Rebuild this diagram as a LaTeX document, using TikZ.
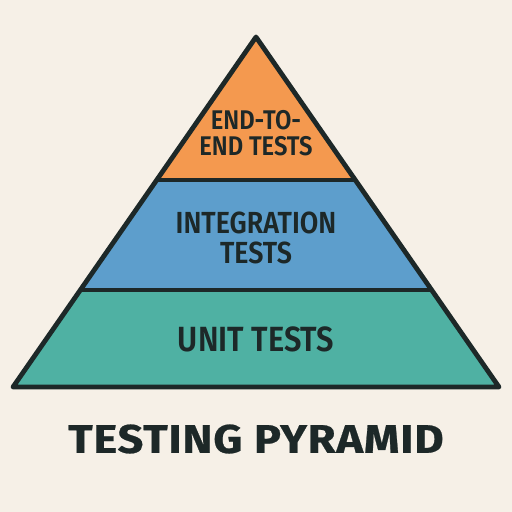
\documentclass[tikz,border=0pt]{standalone}
\usepackage{fontspec}
\setmainfont{Fira Sans}[UprightFont={* SemiBold},BoldFont={* Bold}]
\newfontfamily\condfont{Fira Sans}[UprightFont={* SemiBold},FakeStretch=0.88]
\newfontfamily\titlefont{Fira Sans}[UprightFont={* Bold},FakeStretch=1.13,FakeBold=0.6,LetterSpace=2]
\definecolor{bg}{HTML}{F6F0E7}
\definecolor{ink}{HTML}{1D2828}
\definecolor{orangeL}{HTML}{F4994F}
\definecolor{blueL}{HTML}{5D9ECC}
\definecolor{tealL}{HTML}{4FB1A3}
\begin{document}
\begin{tikzpicture}[x=1pt,y=-1pt,
  layer/.style={draw=ink,line width=4.8pt,line join=round},
  lbl/.style={text=ink,align=center,inner sep=0pt},
  ttl/.style={text=ink,font=\titlefont\fontsize{40}{44}\selectfont,inner sep=0pt}]
\fill[bg] (0,0) rectangle (512,512);
\useasboundingbox (0,0) rectangle (512,512);
\coordinate (apex) at (256,37);
\coordinate (bl) at (13,387);
\coordinate (br) at (499,387);
\path (apex) -- (bl) coordinate[pos=0.4086] (a1) coordinate[pos=0.7229] (a2);
\path (apex) -- (br) coordinate[pos=0.4086] (b1) coordinate[pos=0.7229] (b2);
\fill[tealL] (a2) -- (b2) -- (br) -- (bl) -- cycle;
\fill[blueL] (a1) -- (b1) -- (b2) -- (a2) -- cycle;
\fill[orangeL] (apex) -- (b1) -- (a1) -- cycle;
\draw[layer] (apex) -- (br) -- (bl) -- cycle;
\draw[layer] (a1) -- (b1);
\draw[layer] (a2) -- (b2);
\node[lbl,font=\condfont\fontsize{27}{31}\selectfont] (e2e) at (256,133) {END-TO-\\[-5pt]END TESTS};
\node[lbl,font=\condfont\fontsize{30.5}{34}\selectfont] (integ) at (256,237.5) {INTEGRATION\\[-4pt]TESTS};
\node[lbl,font=\condfont\fontsize{35}{38}\selectfont] (unit) at (256,339.5) {UNIT TESTS};
\node[ttl] (title) at (256,439) {TESTING PYRAMID};
\end{tikzpicture}
\end{document}
